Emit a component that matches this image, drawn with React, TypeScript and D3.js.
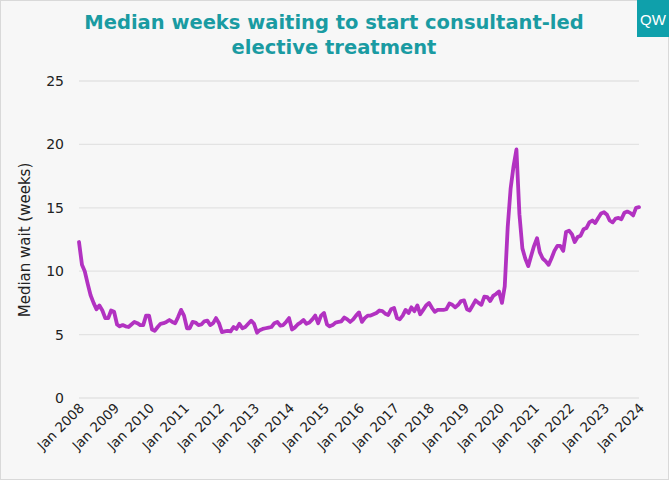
import React from "react";
import * as d3 from "d3";

const startYear = 2008;
// Median weeks waiting, monthly from Jan 2008 to Jan 2024
const medianWeeks: number[] = [
  12.3, 10.5, 10.0, 9.0, 8.1, 7.5, 7.0, 7.3, 6.9, 6.3, 6.3, 6.9,
  6.8, 5.8, 5.65, 5.75, 5.65, 5.6, 5.8, 6.0, 5.9, 5.75, 5.75, 6.5,
  6.5, 5.4, 5.3, 5.6, 5.85, 5.9, 6.0, 6.15, 6.0, 5.9, 6.4, 6.95,
  6.5, 5.5, 5.5, 6.0, 5.95, 5.75, 5.8, 6.05, 6.1, 5.75, 5.9, 6.3,
  5.9, 5.2, 5.25, 5.3, 5.25, 5.6, 5.45, 5.85, 5.5, 5.6, 5.85, 6.1,
  5.85, 5.15, 5.35, 5.45, 5.5, 5.55, 5.6, 5.9, 6.0, 5.7, 5.75, 6.0,
  6.3, 5.4, 5.55, 5.8, 5.95, 6.15, 5.85, 5.95, 6.2, 6.5, 5.9, 6.5,
  6.7, 5.8, 5.65, 5.75, 5.95, 6.0, 6.05, 6.35, 6.2, 6.0, 6.2, 6.5,
  6.75, 6.0, 6.3, 6.5, 6.5, 6.6, 6.7, 6.9, 6.85, 6.65, 6.55, 7.0,
  7.1, 6.3, 6.2, 6.5, 6.95, 6.7, 7.15, 6.85, 7.3, 6.6, 6.95, 7.3,
  7.5, 7.1, 6.8, 6.95, 6.95, 6.95, 7.0, 7.45, 7.35, 7.15, 7.35, 7.65,
  7.7, 7.0, 6.9, 7.3, 7.7, 7.5, 7.35, 8.0, 7.95, 7.65, 8.05, 8.2,
  8.4, 7.5, 8.8, 13.5, 16.5, 18.3, 19.6, 14.5, 11.8, 11.0, 10.4, 11.2,
  12.0, 12.6, 11.5, 11.0, 10.8, 10.5, 11.0, 11.6, 12.0, 12.0, 11.6, 13.1,
  13.2, 12.9, 12.3, 12.7, 12.8, 13.3, 13.4, 13.85, 14.0, 13.8, 14.2, 14.55,
  14.65, 14.45, 14.0, 13.85, 14.15, 14.2, 14.1, 14.6, 14.7, 14.6, 14.4, 15.0,
  15.05,
];
const xTickLabels: string[] = [
  "Jan 2008", "Jan 2009", "Jan 2010", "Jan 2011", "Jan 2012", "Jan 2013",
  "Jan 2014", "Jan 2015", "Jan 2016", "Jan 2017", "Jan 2018", "Jan 2019",
  "Jan 2020", "Jan 2021", "Jan 2022", "Jan 2023", "Jan 2024",
];
const yTicks: number[] = [0, 5, 10, 15, 20, 25];
const titleLines: string[] = ["Median weeks waiting to start consultant-led", "elective treatment"];
const yAxisTitle = "Median wait (weeks)";

const W = 669;
const H = 480;
const TEAL = "#1a9ba2";
const LINE = "#b232c1";
const FONT = "Verdana, 'DejaVu Sans', sans-serif";

export default function App() {
  React.useEffect(() => {
    document.body.style.margin = "0";
  }, []);

  const dates = medianWeeks.map((_, i) => new Date(startYear, i, 1));
  const x = d3
    .scaleTime()
    .domain([new Date(startYear, 0, 1), new Date(startYear + xTickLabels.length - 1, 0, 1)])
    .range([79, 639]);
  const y = d3.scaleLinear().domain([0, 25]).range([398, 81]);

  const line = d3
    .line<number>()
    .x((_, i) => x(dates[i]))
    .y((d) => y(d))
    .curve(d3.curveLinear);

  return (
    <svg width={W} height={H} style={{ position: "absolute", left: 0, top: 0, display: "block" }}>
      <rect x={0.5} y={0.5} width={W - 1} height={H - 1} fill="#f7f7f7" stroke="#d9d9d9" />
      {titleLines.map((t, i) => (
        <text
          key={t}
          x={334}
          y={29 + i * 25}
          textAnchor="middle"
          fontFamily={FONT}
          fontWeight="bold"
          fontSize={19.5}
          fill={TEAL}
        >
          {t}
        </text>
      ))}
      <rect x={637} y={0} width={32} height={37} fill="#0fa0ab" />
      <text x={653} y={25} textAnchor="middle" fontFamily="'Liberation Sans', Arial, sans-serif" fontSize={15} fill="#ffffff">
        QW
      </text>

      {yTicks.map((t) => (
        <g key={t}>
          <line x1={79} x2={639} y1={y(t)} y2={y(t)} stroke="#e3e3e3" strokeWidth={1.3} />
          <text x={64} y={y(t)} dy="0.35em" textAnchor="end" fontFamily={FONT} fontSize={14} fill="#222">
            {t}
          </text>
        </g>
      ))}

      {xTickLabels.map((lab, i) => {
        const tx = x(new Date(startYear + i, 0, 1));
        return (
          <text
            key={lab}
            transform={`translate(${tx + 6},${409}) rotate(-45)`}
            textAnchor="end"
            fontFamily={FONT}
            fontSize={13.5}
            fill="#222"
          >
            {lab}
          </text>
        );
      })}

      <text
        transform={`translate(30,240) rotate(-90)`}
        textAnchor="middle"
        fontFamily={FONT}
        fontSize={15}
        fill="#222"
      >
        {yAxisTitle}
      </text>

      <path d={line(medianWeeks) ?? ""} fill="none" stroke={LINE} strokeWidth={3.8} strokeLinejoin="round" strokeLinecap="round" />
    </svg>
  );
}
